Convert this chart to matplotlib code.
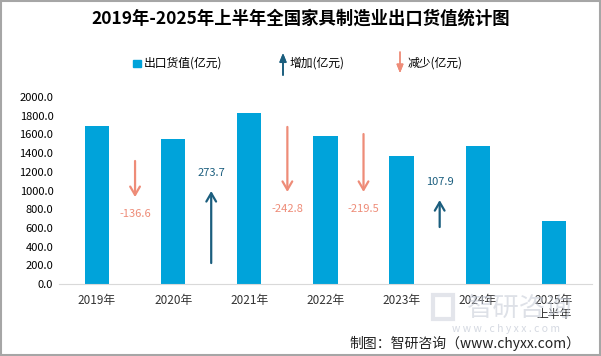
import matplotlib.pyplot as plt
from matplotlib.patches import Rectangle

plt.rcParams['font.family'] = ['Noto Sans CJK SC', 'DejaVu Sans']

years = ['2019年', '2020年', '2021年', '2022年', '2023年', '2024年', '2025年\n上半年']
export_value = [1689.6, 1553.0, 1826.7, 1583.9, 1364.4, 1472.3, 675.0]

# change between neighbouring years, drawn as arrows between the bars
change_pos = [0.5, 1.5, 2.5, 3.5, 4.5]
change_value = [-136.6, 273.7, -242.8, -219.5, 107.9]
arrow_tail = [1316, 225, 1680, 1604, 610]
arrow_tip = [930, 995, 985, 985, 898]

bar_color = '#00A3DA'
up_color = '#1B5E7E'
down_color = '#EE8C78'

fig = plt.figure(figsize=(6.01, 3.56), dpi=100)
ax = fig.add_axes([0.098, 0.202, 0.887, 0.5255])

x = range(len(years))
ax.bar(x, export_value, width=0.32, color=bar_color, zorder=2)

for xp, v, t0, t1 in zip(change_pos, change_value, arrow_tail, arrow_tip):
    c = up_color if v > 0 else down_color
    ax.annotate('', xy=(xp, t1), xytext=(xp, t0),
                arrowprops=dict(arrowstyle='->,head_length=0.6,head_width=0.35',
                                color=c, lw=1.6, shrinkA=0, shrinkB=0))
    off = 190 if v > 0 else -185
    ax.text(xp, t1 + off, f'{v:.1f}', color=c, fontsize=8,
            ha='center', va='center')

ax.set_xlim(-0.5, 6.5)
ax.set_ylim(0, 2000)
ax.set_yticks(range(0, 2001, 200))
ax.set_yticklabels([f'{v:.1f}' for v in range(0, 2001, 200)], fontsize=8)
ax.set_xticks(list(x))
ax.set_xticklabels(years, fontsize=8.5, color='#333333', linespacing=1.1)
ax.tick_params(axis='both', length=0)
ax.tick_params(axis='x', pad=7)
ax.tick_params(axis='y', pad=4)
for s in ['top', 'right', 'left']:
    ax.spines[s].set_visible(False)
ax.spines['bottom'].set_color('#D9D9D9')

fig.text(0.5, 0.948, '2019年-2025年上半年全国家具制造业出口货值统计图',
         ha='center', va='center', fontsize=12.5, fontweight='bold')


def fy(py):
    return 1 - py / 356


# legend drawn by hand
ly = fy(63)
fig.patches.append(Rectangle((133 / 601, fy(67)), 8 / 601, 7 / 356,
                             transform=fig.transFigure, color=bar_color))
fig.text(144 / 601, ly, '出口货值(亿元)', fontsize=8.5, va='center')
fig.add_artist(plt.annotate('', xy=(283 / 601, fy(53)), xytext=(283 / 601, fy(75)),
                            xycoords='figure fraction',
                            arrowprops=dict(arrowstyle='-|>,head_length=0.5,head_width=0.2',
                                            color=up_color, lw=1.2, shrinkA=0, shrinkB=0)))
fig.text(290 / 601, ly, '增加(亿元)', fontsize=8.5, va='center')
fig.add_artist(plt.annotate('', xy=(400 / 601, fy(73)), xytext=(400 / 601, fy(52)),
                            xycoords='figure fraction',
                            arrowprops=dict(arrowstyle='-|>,head_length=0.5,head_width=0.2',
                                            color=down_color, lw=1.0, shrinkA=0, shrinkB=0)))
fig.text(408 / 601, ly, '减少(亿元)', fontsize=8.5, va='center')

# watermark
fig.patches.append(Rectangle((433 / 601, fy(319)), 20 / 601, 24 / 356,
                             transform=fig.transFigure, fill=False,
                             edgecolor='#C8CDD8', lw=3, alpha=0.5, zorder=0))
fig.text(520 / 601, fy(308), '智研咨询', fontsize=19, color='#C3C9D5',
         alpha=0.55, ha='center', va='center', zorder=0)
fig.text(506 / 601, fy(329), 'w w w . c h y x x . c o m', fontsize=7.5,
         color='#C3C9D5', alpha=0.7, ha='center', va='center', zorder=0)

fig.text(0.965, fy(343), '制图：智研咨询（www.chyxx.com）', fontsize=10,
         ha='right', va='center', color='#222222')

fig.patches.append(Rectangle((0.001, 0.002), 0.997, 0.995, transform=fig.transFigure,
                             fill=False, edgecolor='#A6A6A6', lw=1.5))

plt.savefig('out.png', dpi=100)
